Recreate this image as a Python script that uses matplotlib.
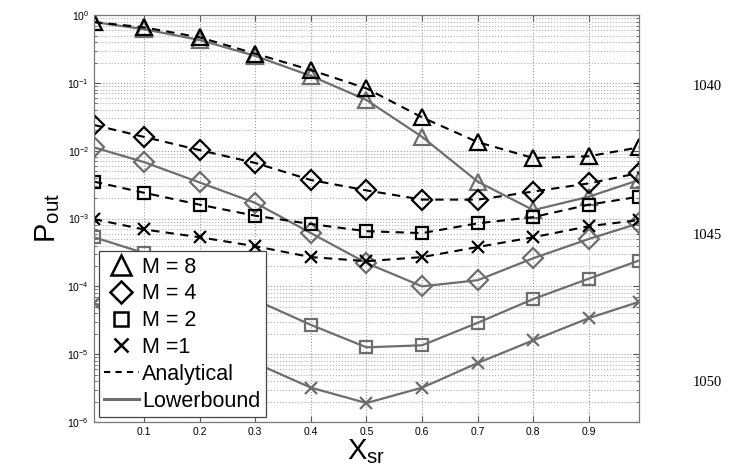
import matplotlib
matplotlib.use('Agg')
import matplotlib.pyplot as plt
from matplotlib.lines import Line2D
from matplotlib.ticker import LogLocator, NullFormatter

plt.rcParams['font.family'] = ['Liberation Sans', 'DejaVu Sans']
plt.rcParams['mathtext.default'] = 'regular'

# x positions (X_sr)
x = [0.01, 0.1, 0.2, 0.3, 0.4, 0.5, 0.6, 0.7, 0.8, 0.9, 0.99]

# Analytical (black dashed)
ana_m8 = [0.79, 0.66, 0.47, 0.27, 0.155, 0.083, 0.031, 0.0134, 0.0078, 0.0083, 0.0112]
ana_m4 = [0.024, 0.016, 0.0102, 0.0066, 0.0037, 0.0026, 0.0019, 0.0019, 0.0025, 0.0033, 0.0047]
ana_m2 = [0.0035, 0.0024, 0.0016, 0.0011, 8.3e-4, 6.5e-4, 6.1e-4, 8.5e-4, 1.05e-3, 1.6e-3, 2.1e-3]
ana_m1 = [9.8e-4, 6.9e-4, 5.3e-4, 3.9e-4, 2.7e-4, 2.35e-4, 2.7e-4, 3.8e-4, 5.3e-4, 7.7e-4, 9.5e-4]

# Lowerbound (gray solid)
low_m8 = [0.79, 0.62, 0.43, 0.25, 0.127, 0.056, 0.016, 0.0035, 0.00133, 0.0021, 0.0037]
low_m4 = [0.0112, 0.0068, 0.0034, 0.0017, 6.1e-4, 2.2e-4, 1.0e-4, 1.23e-4, 2.6e-4, 5.0e-4, 8.5e-4]
low_m2 = [5.3e-4, 3.1e-4, 1.4e-4, 6.3e-5, 2.7e-5, 1.26e-5, 1.35e-5, 2.9e-5, 6.5e-5, 1.3e-4, 2.4e-4]
low_m1 = [5.6e-5, 3.4e-5, 1.6e-5, 7.4e-6, 3.2e-6, 1.9e-6, 3.2e-6, 7.4e-6, 1.6e-5, 3.4e-5, 5.9e-5]

markers = ['^', 'D', 's', 'x']
msizes = [12, 10, 9, 9]
m_labels = ['M = 8', 'M = 4', 'M = 2', 'M =1']
line_numbers = ['1040', '1045', '1050']

gray = '#6e6e6e'

fig = plt.figure(figsize=(7.4, 4.73), dpi=100)
ax = fig.add_axes([0.127, 0.108, 0.7365, 0.86])

for y, mk, ms in zip([low_m8, low_m4, low_m2, low_m1], markers, msizes):
    ax.plot(x, y, color=gray, lw=1.6, marker=mk, ms=ms, mfc='none', mew=1.6)
for y, mk, ms in zip([ana_m8, ana_m4, ana_m2, ana_m1], markers, msizes):
    ax.plot(x, y, color='k', lw=1.5, ls=(0, (4, 3)), marker=mk, ms=ms, mfc='none', mew=1.6)

ax.set_yscale('log')
ax.set_xlim(0.01, 0.99)
ax.set_ylim(1e-6, 1)
ax.set_xticks([0.1, 0.2, 0.3, 0.4, 0.5, 0.6, 0.7, 0.8, 0.9])
ax.set_xticklabels(['0.1', '0.2', '0.3', '0.4', '0.5', '0.6', '0.7', '0.8', '0.9'])
ax.yaxis.set_major_locator(LogLocator(base=10, numticks=10))
ax.yaxis.set_minor_locator(LogLocator(base=10, subs=range(2, 10), numticks=20))
ax.yaxis.set_minor_formatter(NullFormatter())

ax.grid(True, which='major', ls=':', color='#9a9a9a', lw=0.8)
ax.grid(True, which='minor', axis='y', ls=':', color='#b0b0b0', lw=0.8)
ax.tick_params(which='both', direction='in', top=True, right=True, labelsize=7.5, colors='#555555', labelcolor='k')
ax.tick_params(which='major', length=4)
ax.tick_params(which='minor', length=2)
for s in ax.spines.values():
    s.set_color('#7a7a7a')
    s.set_linewidth(0.9)

ax.set_xlabel('$X_{sr}$', fontsize=21, labelpad=0)
ax.set_ylabel('$P_{out}$', fontsize=21, labelpad=4)

handles = [Line2D([], [], color='k', ls='none', marker=mk, ms=ms * 1.15, mfc='none', mew=1.8)
           for mk, ms in zip(markers, msizes)]
handles.append(Line2D([], [], color='k', ls=(0, (3, 2.5)), lw=1.5))
handles.append(Line2D([], [], color=gray, lw=2.2))
labels = m_labels + ['Analytical', 'Lowerbound']
leg = ax.legend(handles, labels, loc='lower left', bbox_to_anchor=(0.009, 0.012),
                borderaxespad=0, fontsize=15.5, fancybox=False, framealpha=1,
                edgecolor='#444444', handlelength=1.6, handletextpad=0.15,
                labelspacing=0.27, borderpad=0.25)
leg.get_frame().set_linewidth(0.9)

for txt, yp in zip(line_numbers, [87, 235, 382]):
    fig.text(707 / 740, 1 - yp / 473, txt, family='Liberation Serif', fontsize=10.5,
             ha='center', va='center')

fig.savefig('out.png', dpi=100)
